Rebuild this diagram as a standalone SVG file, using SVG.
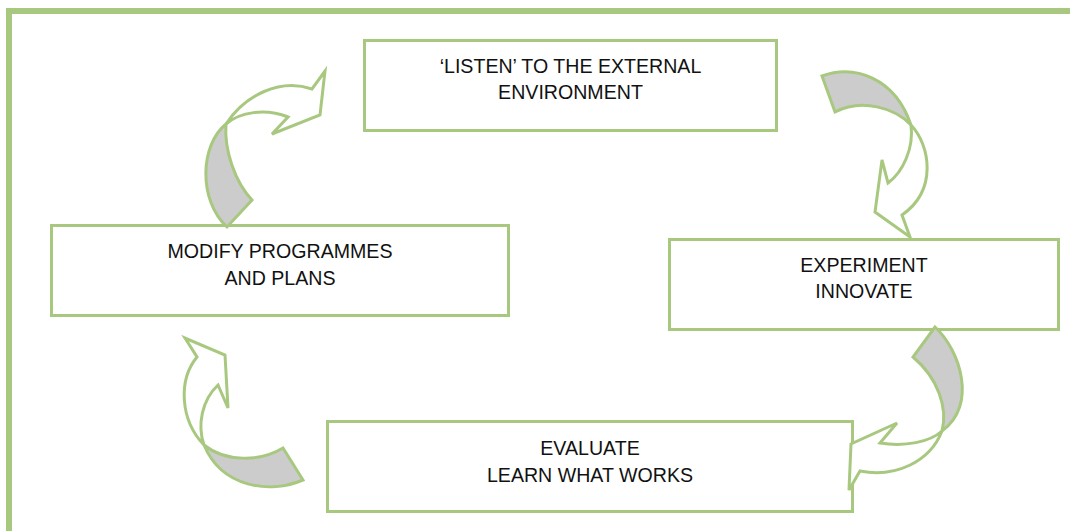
<svg xmlns="http://www.w3.org/2000/svg" width="1070" height="531" viewBox="0 0 1070 531">
<style>
.box{fill:#ffffff;stroke:#a8c880;stroke-width:3}
.lbl{font-family:"Liberation Sans",Arial,sans-serif;font-size:19.6px;fill:#111111;text-anchor:middle}
.aw{fill:#ffffff;stroke:#a8c880;stroke-width:3;stroke-linejoin:miter}
.ag{fill:#cccccc;stroke:#a8c880;stroke-width:3;stroke-linejoin:miter}
.frame{fill:none;stroke:#a8c880;stroke-width:6}
</style>
<rect width="1070" height="531" fill="#ffffff"/>
<path class="frame" d="M9,531 V11 H1070"/>
<g id="node-listen">
<rect class="box" x="364.5" y="40.5" width="412" height="90"/>
<text class="lbl" x="570.5" y="73">‘LISTEN’ TO THE EXTERNAL</text>
<text class="lbl" x="570.5" y="99">ENVIRONMENT</text>
</g>
<g id="node-modify">
<rect class="box" x="51.5" y="225.5" width="457" height="90"/>
<text class="lbl" x="280" y="258">MODIFY PROGRAMMES</text>
<text class="lbl" x="280" y="285">AND PLANS</text>
</g>
<g id="node-experiment">
<rect class="box" x="669.5" y="239.5" width="389" height="90"/>
<text class="lbl" x="864" y="272">EXPERIMENT</text>
<text class="lbl" x="864" y="298">INNOVATE</text>
</g>
<g id="node-evaluate">
<rect class="box" x="327.5" y="421.5" width="525" height="90"/>
<text class="lbl" x="590" y="455">EVALUATE</text>
<text class="lbl" x="590" y="482">LEARN WHAT WORKS</text>
</g>
<g id="connectors">
<g id="arrow-modify-listen">
<path class="ag" d="M226,124 C200,145 198,200 227,227 L252,200 C235,182 224,150 226,124 Z"/>
<path class="aw" d="M226,124 C245,95 280,78 312,89 L325,71 L320,115 L272,134 L288,117 C265,108 240,112 226,124 Z"/>
</g>
<g id="arrow-listen-experiment">
<path class="ag" d="M822,76 C855,64 895,78 911,125 C895,108 862,98 835,112 Z"/>
<path class="aw" d="M911,125 C930,145 938,190 902,215 L910,237 L875,212 L882,160 L888,183 C903,172 914,148 911,125 Z"/>
</g>
<g id="arrow-experiment-evaluate">
<path class="ag" d="M935,327 C960,350 978,405 942,431 C948,408 938,378 913,357 Z"/>
<path class="aw" d="M942,431 C930,462 895,478 860,471 L849,490 L851,444 L897,423 L880,443 C905,447 930,442 942,431 Z"/>
</g>
<g id="arrow-evaluate-modify">
<path class="ag" d="M204,445 C225,462 260,462 283,448 L303,480 C270,494 222,488 204,445 Z"/>
<path class="aw" d="M204,445 C180,420 178,380 197,357 L185,338 L225,355 L228,408 L218,385 C202,400 197,425 204,445 Z"/>
</g>
</g>
</svg>
